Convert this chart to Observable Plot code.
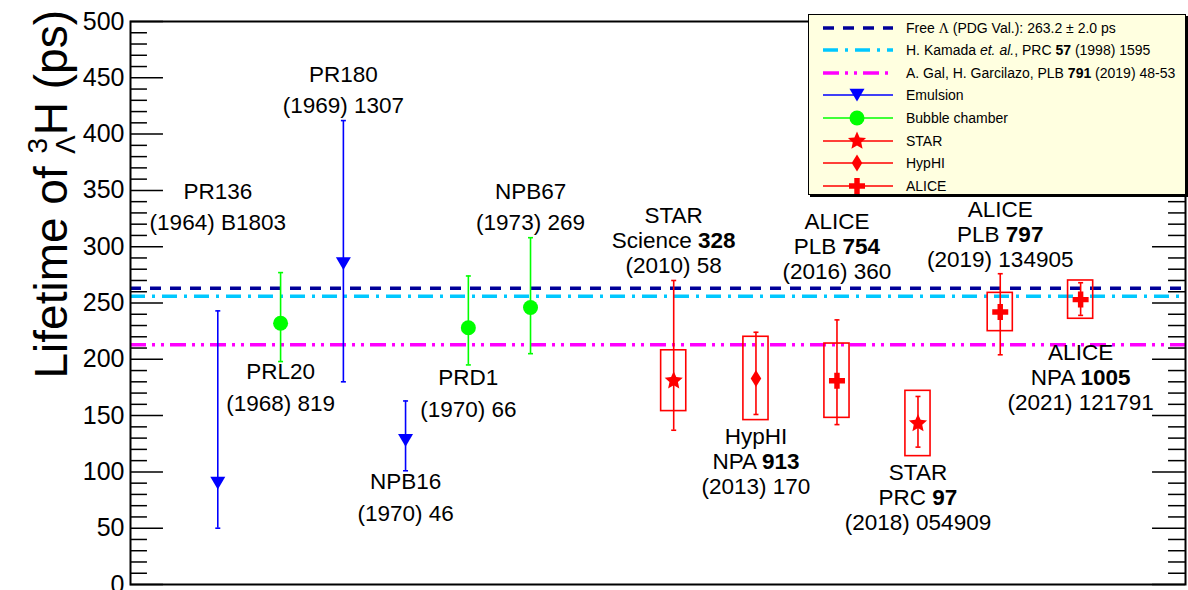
<!DOCTYPE html>
<html><head><meta charset="utf-8">
<script src="https://cdn.jsdelivr.net/npm/d3@7"></script>
<script src="https://cdn.jsdelivr.net/npm/@observablehq/plot@0.6"></script>
<style>
body{margin:0;background:#fff;font-family:"Liberation Sans",Arial,sans-serif;}
#wrap{position:relative;width:1188px;height:590px;overflow:hidden;}
#legend{position:absolute;left:808px;top:14px;width:378px;height:181px;background:#ffffe0;border:1px solid #000;box-shadow:2px 2px 0 #000;box-sizing:border-box;font-size:14px;color:#000;}
.row{position:absolute;left:0;height:22px;width:100%;}
.row svg{position:absolute;left:14px;top:0;}
.row span.t{position:absolute;left:97px;top:2px;white-space:nowrap;line-height:18px;}
.sym{font-family:"Liberation Serif","Times New Roman",serif;}
</style></head><body><div id="wrap"></div><script>
// ---- data ----
const xSlot     = [1.39, 2.39, 3.39, 4.38, 5.38, 6.37, 8.65, 9.96, 11.25, 12.54, 13.85, 15.13];
const technique = ["Emulsion","Bubble chamber","Emulsion","Emulsion","Bubble chamber","Bubble chamber","STAR","HypHI","ALICE","STAR","ALICE","ALICE"];
const lifetime  = [90, 232, 285, 128, 228, 246, 181, 183, 181, 143, 242, 253];
const statUp    = [153, 45, 127, 35, 46, 62, 89, 41, 54, 24, 34, 15];
const statDown  = [40, 34, 105, 27, 33, 41, 44, 32, 39, 21, 38, 14];
const systErr   = [null, null, null, null, null, null, 27, 37, 33, 29, 17, 17];
const labelTop      = ["PR136","PRL20","PR180","NPB16","PRD1","NPB67","STAR","HypHI","ALICE","STAR","ALICE","ALICE"];
const labelJournal  = [null,null,null,null,null,null,"Science","NPA","PLB","PRC","PLB","NPA"];
const labelVolume   = [null,null,null,null,null,null,"328","913","754","97","797","1005"];
const labelYearPage = ["(1964) B1803","(1968) 819","(1969) 1307","(1970) 46","(1970) 66","(1973) 269","(2010) 58","(2013) 170","(2016) 360","(2018) 054909","(2019) 134905","(2021) 121791"];
const labelY        = [349, 188.6, 452.8, 91, 183.3, 348.8, 327.4, 130.8, 322, 99.6, 332.7, 206];
const refValues = [263.2, 256, 213];
const refNames  = ["Free Λ (PDG Val.): 263.2 ± 2.0 ps","H. Kamada et. al., PRC 57 (1998) 1595","A. Gal, H. Garcilazo, PLB 791 (2019) 48-53"];
const yTicks = d3.range(0, 501, 50);
const yMinor = d3.range(0, 501, 10).filter(v => v % 50 !== 0);

// ---- styles ----
const colors = {"Emulsion":"#0000ff","Bubble chamber":"#00ff00","STAR":"#ff0000","HypHI":"#ff0000","ALICE":"#ff0000"};
const refColors = ["#000099","#00c8ff","#ff00ff"];
const refDash = ["11,9","15,7,3,7","16,6,3,6,3,6"];
const XMAX = 16.8;

// ---- custom symbols ----
const rad = s => Math.sqrt(s/Math.PI);
const triDown = {draw(c,s){const r=rad(s);c.moveTo(-r,-r*0.85);c.lineTo(r,-r*0.85);c.lineTo(0,r*0.85);c.closePath();}};
const thinDiamond = {draw(c,s){const r=rad(s);c.moveTo(0,-r);c.lineTo(r*0.62,0);c.lineTo(0,r);c.lineTo(-r*0.62,0);c.closePath();}};
const star5 = {draw(c,s){const R=rad(s),ri=R*0.47;for(let k=0;k<10;k++){const a=-Math.PI/2+k*Math.PI/5;const rr=k%2?ri:R;const px=rr*Math.cos(a),py=rr*Math.sin(a);k?c.lineTo(px,py):c.moveTo(px,py);}c.closePath();}};
const plus = {draw(c,s){const R=rad(s),t=R*0.34;c.moveTo(-t,-R);c.lineTo(t,-R);c.lineTo(t,-t);c.lineTo(R,-t);c.lineTo(R,t);c.lineTo(t,t);c.lineTo(t,R);c.lineTo(-t,R);c.lineTo(-t,t);c.lineTo(-R,t);c.lineTo(-R,-t);c.lineTo(-t,-t);c.closePath();}};
const hcap = {draw(c,s){const r=rad(s);c.moveTo(-r,0);c.lineTo(r,0);}};
const symbolOf = {"Emulsion":[triDown,7.5],"Bubble chamber":[d3.symbolCircle,7.5],"STAR":[star5,9.5],"HypHI":[thinDiamond,8.5],"ALICE":[plus,8]};

const pts = xSlot.map((x,i)=>({x, tech:technique[i], tau:lifetime[i], lo:lifetime[i]-statDown[i], hi:lifetime[i]+statUp[i], sys:systErr[i]}));
const boxes = pts.filter(d=>d.sys!=null);
const labels = xSlot.map((x,i)=>({x, y:labelY[i], top:labelTop[i], mid: labelJournal[i] ? labelJournal[i]+" "+labelVolume[i] : null, yp:labelYearPage[i]}));
const two = labels.filter(d=>!d.mid), three = labels.filter(d=>d.mid);
const boldLines = new Set(three.map(d=>d.mid));
const LF = 22.5;

const markerMarks = Object.keys(symbolOf).map(t => Plot.dot(pts.filter(d=>d.tech===t), {x:"x", y:"tau", symbol:symbolOf[t][0], r:symbolOf[t][1], fill:colors[t], stroke:"none"}));

const plot = Plot.plot({
  width:1188, height:590,
  marginLeft:130, marginRight:3, marginTop:21, marginBottom:6,
  x:{domain:[0,XMAX], axis:null},
  y:{domain:[0,500], ticks:yTicks, tickSize:0, tickPadding:6, label:null, tickFormat:d=>String(d)},
  style:{fontFamily:"'Liberation Sans',Arial,sans-serif", fontSize:"25px", color:"#000", background:"white"},
  marks:[
    ...refValues.map((v,i)=>Plot.ruleY([v],{stroke:refColors[i], strokeWidth:3.5, strokeDasharray:refDash[i]})),
    Plot.rect(boxes,{x1:d=>d.x-0.2, x2:d=>d.x+0.2, y1:d=>d.tau-d.sys, y2:d=>d.tau+d.sys, fill:"none", stroke:"#ff0000", strokeWidth:1.6}),
    Plot.ruleX(pts,{x:"x", y1:"lo", y2:"hi", stroke:d=>colors[d.tech], strokeWidth:1.6}),
    Plot.dot(pts,{x:"x", y:"lo", symbol:hcap, r:2.5, fill:"none", stroke:d=>colors[d.tech], strokeWidth:1.6}),
    Plot.dot(pts,{x:"x", y:"hi", symbol:hcap, r:2.5, fill:"none", stroke:d=>colors[d.tech], strokeWidth:1.6}),
    ...markerMarks,
    Plot.ruleY(yTicks,{x1:0, x2:0.525, stroke:"#000", strokeWidth:1.5}),
    Plot.ruleY(yMinor,{x1:0, x2:0.27, stroke:"#000", strokeWidth:1.5}),
    Plot.ruleY(yTicks,{x1:XMAX-0.525, x2:XMAX, stroke:"#000", strokeWidth:1.5}),
    Plot.ruleY(yMinor,{x1:XMAX-0.27, x2:XMAX, stroke:"#000", strokeWidth:1.5}),
    Plot.frame({stroke:"#000", strokeWidth:2}),
    Plot.text(labels,{x:"x", y:"y", text:"top", fontSize:LF, fill:"#000"}),
    Plot.text(two,{x:"x", y:"y", text:"yp", dy:31.5, fontSize:LF, fill:"#000"}),
    Plot.text(three,{x:"x", y:"y", text:"mid", dy:25, fontSize:LF, fill:"#000"}),
    Plot.text(three,{x:"x", y:"y", text:"yp", dy:50, fontSize:LF, fill:"#000"})
  ]
});
document.getElementById("wrap").appendChild(plot);
const svg = d3.select(plot.tagName.toLowerCase()==="svg" ? plot : plot.querySelector("svg"));

// bold volume numbers
svg.selectAll("text").each(function(){
  const t = this.textContent;
  if (boldLines.has(t)) {
    const i = t.lastIndexOf(" ");
    const el = d3.select(this); el.text(null);
    el.append("tspan").text(t.slice(0,i+1));
    el.append("tspan").attr("font-weight","bold").text(t.slice(i+1));
  }
});

// y-axis title
const title = svg.append("text").attr("transform","translate(67,10) rotate(-90)").attr("text-anchor","end")
  .attr("font-size",46).attr("fill","#000").attr("font-family","'Liberation Sans',Arial,sans-serif");
title.append("tspan").text("Lifetime of ");
title.append("tspan").attr("font-size",28).attr("dy",-20).text("3");
title.append("tspan").attr("font-size",28).attr("dx",-16).attr("dy",28).text("Λ");
title.append("tspan").attr("dy",-8).text("H (ps)");

// ---- legend ----
const legend = d3.select("#wrap").append("div").attr("id","legend");
const legendRows = [
  {html:'Free <span class="sym">Λ</span> (PDG Val.): 263.2 ± 2.0 ps', line:0},
  {html:'H. Kamada <i>et. al.</i>, PRC <b>57</b> (1998) 1595', line:1},
  {html:'A. Gal, H. Garcilazo, PLB <b>791</b> (2019) 48-53', line:2},
  {html:'Emulsion', tech:"Emulsion"},
  {html:'Bubble chamber', tech:"Bubble chamber"},
  {html:'STAR', tech:"STAR"},
  {html:'HypHI', tech:"HypHI"},
  {html:'ALICE', tech:"ALICE"}
];
legendRows.forEach((r,i)=>{
  const row = legend.append("div").attr("class","row").style("top",(1.5+i*22.6)+"px");
  const s = row.append("svg").attr("width",72).attr("height",22);
  if (r.line!=null) {
    s.append("line").attr("x1",0).attr("x2",70).attr("y1",11).attr("y2",11)
      .attr("stroke",refColors[r.line]).attr("stroke-width",3.5).attr("stroke-dasharray",refDash[r.line]);
  } else {
    const c = colors[r.tech];
    s.append("line").attr("x1",0).attr("x2",70).attr("y1",11).attr("y2",11).attr("stroke",c).attr("stroke-width",1.6);
    const [sym, rr] = symbolOf[r.tech];
    s.append("path").attr("transform","translate(34,11)").attr("d",d3.symbol(sym, Math.PI*rr*rr)()).attr("fill",c);
  }
  row.append("span").attr("class","t").html(r.html);
});
</script></body></html>
